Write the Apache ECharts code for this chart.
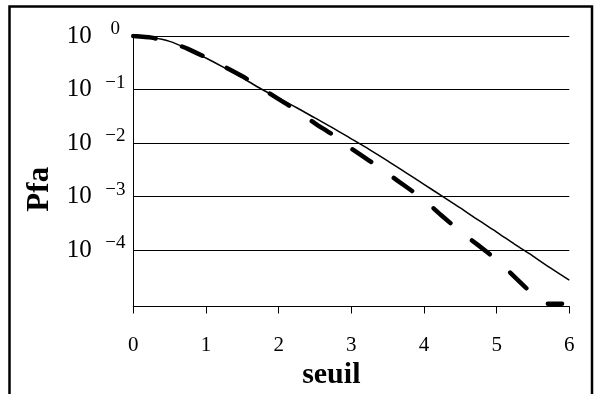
<!DOCTYPE html>
<html>
<head>
<meta charset="utf-8">
<script src="https://cdn.jsdelivr.net/npm/echarts@6/dist/echarts.min.js"></script>
<style>
html,body{margin:0;padding:0;background:#fff;}
#chart{width:596px;height:394px;}
</style>
</head>
<body>
<div id="chart"></div>
<script>
// x positions (seuil)
const solidS = [0,0.25,0.5,0.75,1,1.25,1.5,1.75,2,2.25,2.5,2.75,3,3.25,3.5,3.75,4,4.25,4.5,4.75,5,5.25,5.5,5.75,6];
// log10(Pfa) of the solid curve
const solidLog10 = [0,-0.03,-0.10,-0.24,-0.41,-0.59,-0.78,-0.98,-1.16,-1.34,-1.53,-1.72,-1.92,-2.12,-2.33,-2.55,-2.77,-2.99,-3.21,-3.44,-3.66,-3.89,-4.11,-4.34,-4.56];
// x positions of the dashed curve
const dashedS = [0,0.25,0.5,0.75,1,1.25,1.5,1.75,2,2.25,2.5,2.75,3,3.25,3.5,3.75,4,4.25,4.5,4.75,5,5.25,5.5,5.6,5.7,5.75,5.9];
// log10(Pfa) of the dashed curve
const dashedLog10 = [0,-0.03,-0.11,-0.24,-0.40,-0.57,-0.75,-0.96,-1.18,-1.39,-1.63,-1.85,-2.10,-2.33,-2.57,-2.81,-3.06,-3.36,-3.65,-3.91,-4.18,-4.50,-4.83,-4.96,-5,-5,-5];
// tick labels
const xTicks = [0,1,2,3,4,5,6];
const yTickExponents = [0,-1,-2,-3,-4];
const xTitle = 'seuil';
const yTitle = 'Pfa';

const toPoints = (xs, ls) => xs.map((x, i) => [x, Math.pow(10, ls[i])]);
const FONT = 'Liberation Serif';

const chart = echarts.init(document.getElementById('chart'), null, {renderer: 'canvas'});
chart.setOption({
  backgroundColor: '#fff',
  animation: false,
  graphic: [{
    type: 'rect',
    shape: {x: 9.5, y: 6.5, width: 582.5, height: 520},
    style: {fill: 'none', stroke: '#000', lineWidth: 2.5},
    silent: true
  }],
  grid: {left: 133.3, right: 26.7, top: 36, bottom: 87.5, containLabel: false, outerBoundsMode: 'none'},
  xAxis: {
    type: 'value',
    min: xTicks[0],
    max: xTicks[xTicks.length - 1],
    interval: 1,
    name: xTitle,
    nameLocation: 'middle',
    nameGap: 48,
    nameTextStyle: {fontFamily: FONT, fontWeight: 'bold', fontSize: 30, color: '#000', padding: [0, 40, 0, 0]},
    axisLine: {lineStyle: {color: '#000', width: 1}},
    axisTick: {show: true, length: 7, lineStyle: {color: '#000', width: 1}},
    axisLabel: {fontFamily: FONT, fontSize: 21, color: '#000', margin: 28,
      formatter: v => xTicks.includes(v) ? String(v) : ''},
    splitLine: {show: false}
  },
  yAxis: {
    type: 'log',
    logBase: 10,
    min: 8.9e-6,
    max: 1,
    name: yTitle,
    nameLocation: 'middle',
    nameRotate: 90,
    nameGap: 70,
    nameTextStyle: {fontFamily: FONT, fontWeight: 'bold', fontSize: 31, color: '#000', padding: [0, 36, 0, 0]},
    axisLine: {show: true, lineStyle: {color: '#000', width: 1}},
    axisTick: {show: false},
    splitLine: {show: true, lineStyle: {color: ['#000', 'rgba(0,0,0,0)', '#000', '#000', '#000', '#000', '#000'], width: 1}},
    axisLabel: {
      margin: 5,
      showMinLabel: false,
      formatter: function (v) {
        const l = Math.log10(v);
        const e = Math.round(l);
        if (Math.abs(l - e) > 1e-6 || !yTickExponents.includes(e)) return '';
        const sup = e === 0 ? '0' : '\u2212' + (-e);
        return '{b|10}{s|' + sup + '}';
      },
      rich: {
        b: {fontFamily: FONT, fontSize: 25, color: '#000', padding: [0, 10.6, 0, 0], verticalAlign: 'middle'},
        s: {fontFamily: FONT, fontSize: 19, color: '#000', width: 26, align: 'center', padding: [0, 0, 14, 0], verticalAlign: 'middle'}
      }
    }
  },
  series: [
    {
      type: 'line',
      data: toPoints(solidS, solidLog10),
      showSymbol: false,
      smooth: 0.3,
      lineStyle: {color: '#000', width: 1.5},
      z: 3
    },
    {
      type: 'line',
      data: toPoints(dashedS, dashedLog10),
      showSymbol: false,
      smooth: 0.2,
      lineStyle: {color: '#000', width: 4.5, type: [22.5, 27.5], cap: 'round', join: 'round'},
      z: 2
    }
  ]
});
</script>
</body>
</html>
